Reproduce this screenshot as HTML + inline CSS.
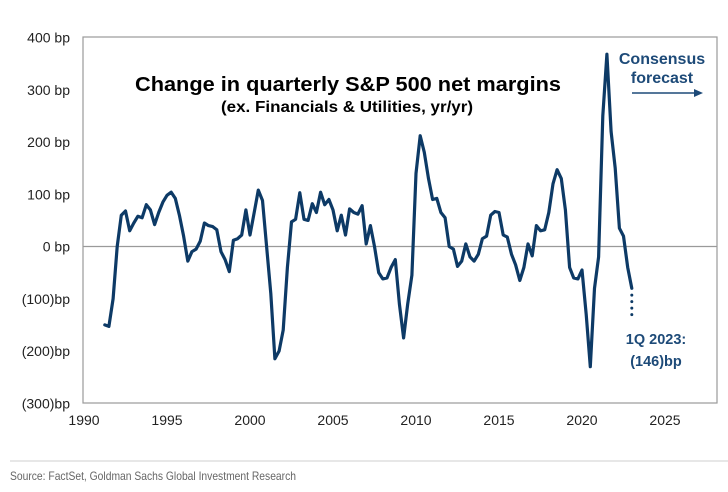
<!DOCTYPE html>
<html><head><meta charset="utf-8"><style>
html,body{margin:0;padding:0;background:#fff;}
svg{display:block;font-family:"Liberation Sans",Arial,sans-serif;}
</style></head><body>
<svg id="chart" width="728" height="492" viewBox="0 0 728 492" xmlns="http://www.w3.org/2000/svg">
<rect x="83" y="37" width="634" height="366" fill="#fff" stroke="#9a9a9a" stroke-width="1.2"/>
<g id="yaxis"></g>
<g id="xaxis"></g>
<g id="series"></g>
<text x="348" y="91" text-anchor="middle" font-size="20" font-weight="bold" textLength="426" lengthAdjust="spacingAndGlyphs" fill="#000">Change in quarterly S&amp;P 500 net margins</text>
<text x="347" y="112" text-anchor="middle" font-size="15.5" font-weight="bold" textLength="252" lengthAdjust="spacingAndGlyphs" fill="#000">(ex. Financials &amp; Utilities, yr/yr)</text>
<text x="662" y="64" text-anchor="middle" font-size="16" font-weight="bold" fill="#1d4a78">Consensus</text>
<text x="662" y="83" text-anchor="middle" font-size="16" font-weight="bold" fill="#1d4a78">forecast</text>
<line x1="632" y1="93" x2="694" y2="93" stroke="#1d4a78" stroke-width="1.5"/>
<polygon points="694,89 703,93 694,97" fill="#1d4a78"/>
<text x="656" y="344" text-anchor="middle" font-size="14.5" font-weight="bold" fill="#1d4a78">1Q 2023:</text>
<text x="656" y="366" text-anchor="middle" font-size="14.5" font-weight="bold" fill="#1d4a78">(146)bp</text>
<line x1="10" y1="461" x2="728" y2="461" stroke="#cfcfcf" stroke-width="1"/>
<text x="10" y="480" font-size="12" fill="#666" textLength="286" lengthAdjust="spacingAndGlyphs">Source: FactSet, Goldman Sachs Global Investment Research</text>
</svg>
<script>
const yTicks = [400,300,200,100,0,-100,-200,-300];
const yTickLabels = ["400 bp","300 bp","200 bp","100 bp","0 bp","(100)bp","(200)bp","(300)bp"];
const xTicks = [1990,1995,2000,2005,2010,2015,2020,2025];
const startYear = 1991.25;
const values = [-150,-153,-100,0,60,68,30,45,58,55,80,70,42,65,85,98,104,92,60,20,-28,-10,-5,10,45,40,38,32,-10,-25,-48,12,15,22,70,22,65,108,88,0,-90,-215,-200,-160,-40,47,52,103,52,50,82,65,104,80,90,70,30,60,22,72,65,62,78,5,40,0,-50,-62,-60,-40,-25,-110,-175,-110,-55,140,212,180,130,90,92,65,55,0,-5,-38,-28,5,-20,-28,-15,15,20,60,67,65,22,18,-15,-35,-65,-40,5,-18,40,30,32,65,120,147,130,70,-40,-60,-62,-45,-130,-230,-80,-20,250,368,220,150,35,20,-40,-80];
const forecastYears = [2023.0,2023.0];
const forecastValues = [-93,-135];

const NS="http://www.w3.org/2000/svg";
const X0=84, PX_PER_YR=16.6, Y0=246.5, PX_PER_BP=0.5225;
function xs(yr){return X0+(yr-1990)*PX_PER_YR;}
function ys(v){return Y0-v*PX_PER_BP;}
function mk(tag,attrs,parent){const e=document.createElementNS(NS,tag);for(const k in attrs)e.setAttribute(k,attrs[k]);parent.appendChild(e);return e;}

const yg=document.getElementById('yaxis');
yTicks.forEach((t,i)=>{
  const tx=mk('text',{x:70,y:ys(t)+5,'text-anchor':'end','font-size':'14',fill:'#222'},yg);
  tx.textContent=yTickLabels[i];
  
  
});
const zl=mk('line',{x1:83,x2:717,y1:ys(0),y2:ys(0),stroke:'#9a9a9a','stroke-width':1.2},yg);



const xg=document.getElementById('xaxis');
xTicks.forEach(t=>{
  const tx=mk('text',{x:xs(t),y:425,'text-anchor':'middle','font-size':'14',fill:'#222'},xg);
  tx.textContent=String(t);
  
  
});

const sg=document.getElementById('series');
const pts=values.map((v,i)=>xs(startYear+i*0.25).toFixed(1)+','+ys(v).toFixed(1)).join(' ');
const pl=mk('polyline',{points:pts,fill:'none',stroke:'#0d3a66','stroke-width':3.2,'stroke-linejoin':'round','stroke-linecap':'round'},sg);


const fl=mk('line',{x1:xs(forecastYears[0]),y1:ys(forecastValues[0]),x2:xs(forecastYears[1]),y2:ys(forecastValues[1]),stroke:'#0d3a66','stroke-width':3,'stroke-dasharray':'0 6.5','stroke-linecap':'round'},sg);


</script>
</body></html>
